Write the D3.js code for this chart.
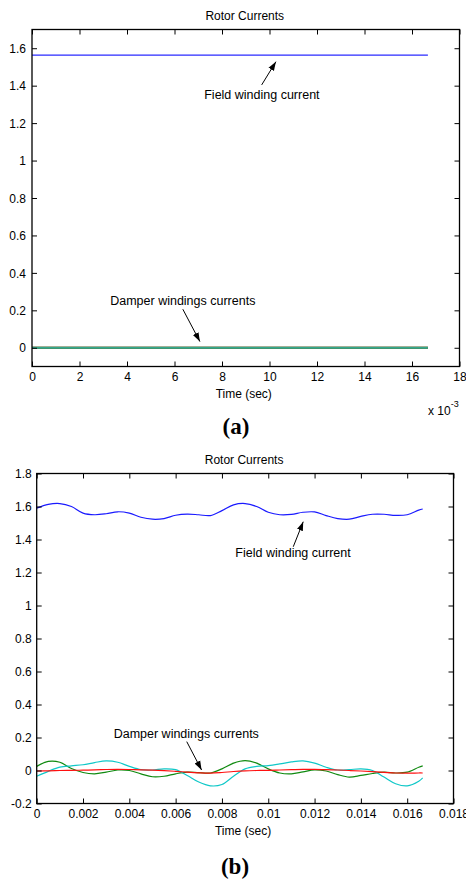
<!DOCTYPE html>
<html>
<head>
<meta charset="utf-8">
<script src="https://cdn.jsdelivr.net/npm/d3@7"></script>
<style>
  body { margin: 0; background: #fff; }
  text { font-family: "Liberation Sans", Arial, sans-serif; }
  text.caption { font-family: "Liberation Serif", "Times New Roman", serif; font-weight: bold; }
</style>
</head>
<body>
<div id="chart"></div>
<script>
// ---- data ----
// panel (a): steady state, time in seconds
var timeA = [0, 0.01667];
var fieldA = [1.563, 1.563];
var damper1A = [0, 0];
var damper2A = [0, 0];
var damper3A = [0, 0];

// panel (b): time in seconds
var timeB = [0, 0.0005, 0.001, 0.0015, 0.002, 0.0025, 0.003, 0.0035, 0.004, 0.0045,
  0.005, 0.0055, 0.006, 0.0065, 0.007, 0.0075, 0.008, 0.0085, 0.009, 0.0095,
  0.01, 0.0105, 0.011, 0.0115, 0.012, 0.0125, 0.013, 0.0135, 0.014, 0.0145,
  0.015, 0.0155, 0.016, 0.0165, 0.01667];
var fieldB = [1.59, 1.613, 1.618, 1.60, 1.56, 1.55, 1.556, 1.568, 1.56, 1.535,
  1.523, 1.527, 1.547, 1.554, 1.55, 1.545, 1.575, 1.61, 1.618, 1.60,
  1.565, 1.55, 1.552, 1.565, 1.567, 1.545, 1.527, 1.523, 1.54, 1.553,
  1.553, 1.546, 1.55, 1.578, 1.585];
var damperGreenB = [0.025, 0.055, 0.05, 0.012, -0.012, -0.02, -0.01, 0.003, 0, -0.02,
  -0.038, -0.035, -0.02, -0.01, -0.013, -0.015, 0.01, 0.045, 0.06, 0.045,
  0.01, -0.015, -0.02, -0.008, 0.004, -0.003, -0.025, -0.04, -0.03, -0.018,
  -0.01, -0.015, -0.01, 0.02, 0.028];
var damperCyanB = [-0.035, -0.005, 0.02, 0.028, 0.035, 0.048, 0.058, 0.05, 0.025, 0.005,
  0.003, 0.01, 0.005, -0.03, -0.07, -0.093, -0.085, -0.035, 0.01, 0.025,
  0.03, 0.04, 0.052, 0.058, 0.045, 0.02, 0.003, 0.005, 0.01, 0,
  -0.04, -0.08, -0.093, -0.065, -0.045];
var damperRedB = [-0.003, -0.002, 0, 0.001, 0.002, 0.004, 0.006, 0.007, 0.006, 0.004,
  0.002, -0.001, -0.005, -0.01, -0.014, -0.016, -0.012, -0.006, -0.002, 0,
  0.001, 0.003, 0.005, 0.007, 0.007, 0.005, 0.003, 0, -0.003, -0.007,
  -0.011, -0.015, -0.016, -0.015, -0.015];

// tick values
var xTicksA = [0, 0.002, 0.004, 0.006, 0.008, 0.01, 0.012, 0.014, 0.016, 0.018];
var yTicksA = [0, 0.2, 0.4, 0.6, 0.8, 1, 1.2, 1.4, 1.6];
var xTicksB = [0, 0.002, 0.004, 0.006, 0.008, 0.01, 0.012, 0.014, 0.016, 0.018];
var yTicksB = [-0.2, 0, 0.2, 0.4, 0.6, 0.8, 1, 1.2, 1.4, 1.6, 1.8];

var W = 466, H = 879;
var svg = d3.select("#chart").append("svg")
  .attr("width", W).attr("height", H);

var defs = svg.append("defs");
defs.append("marker")
  .attr("id", "head")
  .attr("viewBox", "0 0 10 10")
  .attr("refX", 10).attr("refY", 5)
  .attr("markerWidth", 9).attr("markerHeight", 9)
  .attr("markerUnits", "userSpaceOnUse")
  .attr("orient", "auto")
  .append("path")
  .attr("d", "M0,1.5 L10,5 L0,8.5 Z")
  .attr("fill", "#000");

function numFmt(d) {
  return String(+d.toFixed(4));
}

function drawPanel(cfg) {
  var x = d3.scaleLinear().domain(cfg.xDomain).range([cfg.left, cfg.right]);
  var y = d3.scaleLinear().domain(cfg.yDomain).range([cfg.bottom, cfg.top]);
  var g = svg.append("g");

  // title
  g.append("text")
    .attr("x", (cfg.left + cfg.right) / 2 - 1)
    .attr("y", cfg.top - 10)
    .attr("text-anchor", "middle")
    .attr("font-size", "12px")
    .text("Rotor Currents");

  // lines
  var line = d3.line()
    .x(function(d) { return x(d[0]); })
    .y(function(d) { return y(d[1]); })
    .curve(d3.curveCatmullRom);

  cfg.series.forEach(function(s) {
    g.append("path")
      .datum(cfg.time.map(function(t, i) { return [t, s.values[i]]; }))
      .attr("fill", "none")
      .attr("stroke", s.color)
      .attr("stroke-width", s.width || 1.1)
      .attr("stroke-opacity", s.opacity || 1)
      .attr("d", line);
  });

  // box with inward ticks on all sides (matlab style)
  var tl = 5;
  var axB = d3.axisBottom(x).tickValues(cfg.xTicks).tickSizeInner(-tl).tickSizeOuter(0).tickFormat(cfg.xFmt);
  var axT = d3.axisTop(x).tickValues(cfg.xTicks).tickSizeInner(-tl).tickSizeOuter(0).tickFormat("");
  var axL = d3.axisLeft(y).tickValues(cfg.yTicks).tickSizeInner(-tl).tickSizeOuter(0).tickFormat(numFmt);
  var axR = d3.axisRight(y).tickValues(cfg.yTicks).tickSizeInner(-tl).tickSizeOuter(0).tickFormat("");

  var gb = g.append("g").attr("transform", "translate(0," + cfg.bottom + ")").call(axB);
  gb.selectAll("text").attr("dy", null).attr("y", 14.5).attr("font-size", "12px").attr("fill", "#000");
  g.append("g").attr("transform", "translate(0," + cfg.top + ")").call(axT);
  var gl = g.append("g").attr("transform", "translate(" + cfg.left + ",0)").call(axL);
  gl.selectAll("text").attr("x", -cfg.yLabelGap).attr("dy", "0.35em").attr("font-size", "12px").attr("fill", "#000");
  g.append("g").attr("transform", "translate(" + cfg.right + ",0)").call(axR);
  g.selectAll(".domain").remove();
  g.selectAll(".tick line").attr("stroke", "#000");

  g.append("rect")
    .attr("x", cfg.left).attr("y", cfg.top)
    .attr("width", cfg.right - cfg.left).attr("height", cfg.bottom - cfg.top)
    .attr("fill", "none").attr("stroke", "#000").attr("stroke-width", 1.3);

  // x label
  g.append("text")
    .attr("x", (cfg.left + cfg.right) / 2 - 2)
    .attr("y", cfg.bottom + 31)
    .attr("text-anchor", "middle")
    .attr("font-size", "12px")
    .text("Time (sec)");

  // annotations with arrows
  cfg.notes.forEach(function(n) {
    g.append("text")
      .attr("x", x(n.text[0])).attr("y", y(n.text[1]))
      .attr("text-anchor", "middle")
      .attr("font-size", "12.5px")
      .text(n.label);
    g.append("line")
      .attr("x1", x(n.from[0])).attr("y1", y(n.from[1]))
      .attr("x2", x(n.to[0])).attr("y2", y(n.to[1]))
      .attr("stroke", "#000").attr("stroke-width", 1)
      .attr("marker-end", "url(#head)");
  });

  // panel caption
  svg.append("text")
    .attr("class", "caption")
    .attr("x", cfg.captionX).attr("y", cfg.captionY)
    .attr("text-anchor", "middle")
    .attr("font-size", "23px")
    .text(cfg.caption);

  return {x: x, y: y, g: g};
}

// panel (a)
var pa = drawPanel({
  left: 32, right: 459.5, top: 29.5, bottom: 366.5,
  xDomain: [0, 0.018], yDomain: [-0.1, 1.7],
  xTicks: xTicksA, yTicks: yTicksA, yLabelGap: 6,
  xFmt: function(d) { return String(Math.round(d * 1000)); },
  time: timeA,
  series: [
    {values: fieldA, color: "#2a2aff", width: 1.3},
    {values: damper3A, color: "#ff0000", width: 2},
    {values: damper1A, color: "#008000", width: 2},
    {values: damper2A, color: "#40b0b0", width: 2, opacity: 0.8}
  ],
  notes: [
    {label: "Field winding current", text: [0.00968, 1.329], from: [0.00967, 1.404], to: [0.01027, 1.528]},
    {label: "Damper windings currents", text: [0.00635, 0.229], from: [0.00635, 0.206], to: [0.00707, 0.033]}
  ],
  caption: "(a)", captionX: 236, captionY: 434
});

// x 10^-3 exponent label for panel (a)
var expo = pa.g.append("text")
  .attr("x", 428).attr("y", 415)
  .attr("font-size", "12px");
expo.append("tspan").text("x 10");
expo.append("tspan").attr("dy", -8).attr("font-size", "9px").text("-3");

// panel (b)
drawPanel({
  left: 36.7, right: 453.5, top: 473.5, bottom: 803.5,
  xDomain: [0, 0.018], yDomain: [-0.2, 1.8],
  xTicks: xTicksB, yTicks: yTicksB, yLabelGap: 5,
  xFmt: numFmt,
  time: timeB,
  series: [
    {values: fieldB, color: "#1a1aff", width: 1.2},
    {values: damperGreenB, color: "#108a10", width: 1.2},
    {values: damperCyanB, color: "#10c8c8", width: 1.2},
    {values: damperRedB, color: "#ff1010", width: 1.2}
  ],
  notes: [
    {label: "Field winding current", text: [0.01107, 1.294], from: [0.01108, 1.356], to: [0.01151, 1.508]},
    {label: "Damper windings currents", text: [0.00646, 0.197], from: [0.00648, 0.175], to: [0.00712, 0.003]}
  ],
  caption: "(b)", captionX: 235, captionY: 874
});
</script>
</body>
</html>
